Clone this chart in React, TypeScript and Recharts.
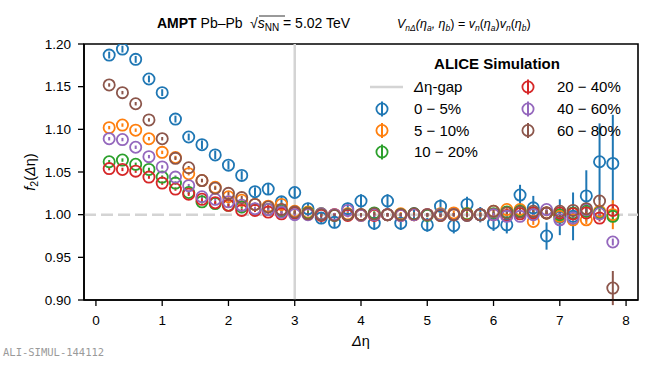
import React from 'react';
import { ScatterChart, Scatter, XAxis, YAxis, ErrorBar, ReferenceLine, ReferenceArea } from 'recharts';

const FONT = '"Liberation Sans", Arial, Helvetica, sans-serif';

const deltaEta = [0.2, 0.4, 0.6, 0.8, 1.0, 1.2, 1.4, 1.6, 1.8, 2.0, 2.2, 2.4, 2.6, 2.8, 3.0, 3.2, 3.4, 3.6, 3.8, 4.0,
  4.2, 4.4, 4.6, 4.8, 5.0, 5.2, 5.4, 5.6, 5.8, 6.0, 6.2, 6.4, 6.6, 6.8, 7.0, 7.2, 7.4, 7.6, 7.8];

const f2_0_5 = [1.187, 1.194, 1.182, 1.159, 1.143, 1.112, 1.091, 1.082, 1.070, 1.058, 1.046, 1.027, 1.030, 1.015, 1.026,
  1.007, 0.996, 0.991, 1.007, 1.016, 0.990, 1.016, 0.990, 1.001, 0.988, 1.010, 0.987, 1.012, 1.000, 0.990,
  0.988, 1.023, 1.008, 0.975, 0.997, 0.998, 1.022, 1.062, 1.060];
const err_0_5 = [0.004, 0.004, 0.004, 0.004, 0.004, 0.004, 0.004, 0.005, 0.005, 0.005, 0.005, 0.005, 0.006, 0.006, 0.006,
  0.007, 0.007, 0.007, 0.007, 0.008, 0.008, 0.008, 0.008, 0.008, 0.008, 0.008, 0.009, 0.009, 0.009, 0.009,
  0.010, 0.012, 0.014, 0.016, 0.021, 0.028, 0.030, 0.045, 0.057];

const f2_5_10 = [1.102, 1.105, 1.099, 1.089, 1.073, 1.067, 1.048, 1.040, 1.032, 1.021, 1.017, 1.012, 1.010, 1.012, 1.004,
  1.003, 1.001, 1.000, 1.001, 0.999, 1.001, 1.000, 1.001, 1.000, 1.000, 1.001, 1.002, 1.001, 1.000, 1.004,
  1.006, 1.006, 0.992, 1.002, 0.998, 0.994, 0.994, 1.004, 1.000];
const err_5_10 = [0.002, 0.002, 0.002, 0.002, 0.002, 0.002, 0.002, 0.002, 0.002, 0.002, 0.002, 0.002, 0.002, 0.002, 0.002,
  0.002, 0.002, 0.002, 0.002, 0.002, 0.002, 0.002, 0.002, 0.002, 0.002, 0.002, 0.003, 0.003, 0.003, 0.003,
  0.003, 0.003, 0.004, 0.004, 0.004, 0.005, 0.005, 0.008, 0.017];

const f2_10_20 = [1.062, 1.064, 1.059, 1.053, 1.044, 1.037, 1.026, 1.015, 1.013, 1.011, 1.009, 1.006, 1.006, 1.004, 1.002,
  1.002, 1.001, 0.999, 1.000, 1.000, 1.002, 1.000, 1.000, 1.001, 0.999, 1.000, 1.000, 1.001, 1.000, 1.001,
  1.003, 1.004, 1.002, 1.002, 1.000, 1.002, 1.004, 1.002, 0.998];
const err_10_20 = [0.002, 0.002, 0.002, 0.002, 0.002, 0.002, 0.002, 0.002, 0.002, 0.002, 0.002, 0.002, 0.002, 0.002, 0.002,
  0.002, 0.002, 0.002, 0.002, 0.002, 0.002, 0.002, 0.002, 0.002, 0.002, 0.002, 0.002, 0.002, 0.002, 0.002,
  0.003, 0.003, 0.003, 0.003, 0.003, 0.004, 0.004, 0.005, 0.006];

const f2_20_40 = [1.054, 1.053, 1.051, 1.044, 1.037, 1.030, 1.024, 1.018, 1.014, 1.011, 1.005, 1.005, 1.003, 1.001, 1.002,
  1.001, 0.999, 1.000, 0.999, 1.000, 0.999, 1.000, 0.999, 1.000, 1.000, 0.999, 1.000, 1.000, 1.000, 1.000,
  0.999, 1.001, 1.002, 1.002, 1.002, 1.001, 1.002, 0.996, 1.005];
const err_20_40 = [0.002, 0.002, 0.002, 0.002, 0.002, 0.002, 0.002, 0.002, 0.002, 0.002, 0.002, 0.002, 0.002, 0.002, 0.002,
  0.002, 0.002, 0.002, 0.002, 0.002, 0.002, 0.002, 0.002, 0.002, 0.002, 0.002, 0.002, 0.002, 0.002, 0.002,
  0.002, 0.002, 0.003, 0.003, 0.003, 0.003, 0.004, 0.004, 0.005];

const f2_40_60 = [1.089, 1.088, 1.079, 1.068, 1.056, 1.044, 1.034, 1.021, 1.018, 1.015, 1.011, 1.007, 1.006, 1.003, 1.000,
  1.000, 1.001, 1.000, 1.005, 0.999, 1.000, 1.000, 0.999, 1.000, 1.000, 1.000, 1.000, 0.999, 1.000, 1.000,
  0.998, 0.998, 1.000, 1.006, 0.994, 0.996, 1.006, 1.001, 0.968];
const err_40_60 = [0.002, 0.002, 0.002, 0.002, 0.002, 0.002, 0.002, 0.002, 0.002, 0.002, 0.002, 0.002, 0.002, 0.002, 0.002,
  0.002, 0.002, 0.002, 0.002, 0.002, 0.002, 0.002, 0.002, 0.002, 0.002, 0.002, 0.002, 0.002, 0.002, 0.002,
  0.002, 0.002, 0.003, 0.003, 0.003, 0.003, 0.003, 0.004, 0.004];

const f2_60_80 = [1.152, 1.143, 1.130, 1.111, 1.089, 1.066, 1.055, 1.040, 1.031, 1.025, 1.020, 1.012, 1.009, 1.006, 1.003,
  1.001, 1.000, 0.999, 1.000, 1.000, 1.001, 1.000, 1.000, 1.001, 1.000, 0.999, 1.000, 0.999, 1.000, 1.004,
  1.002, 1.003, 1.004, 1.002, 1.004, 1.005, 1.007, 1.016, 0.914];
const err_60_80 = [0.002, 0.002, 0.002, 0.002, 0.002, 0.002, 0.002, 0.002, 0.002, 0.002, 0.002, 0.002, 0.002, 0.002, 0.002,
  0.002, 0.002, 0.002, 0.002, 0.002, 0.002, 0.002, 0.002, 0.002, 0.002, 0.002, 0.002, 0.002, 0.002, 0.002,
  0.003, 0.003, 0.003, 0.003, 0.003, 0.004, 0.004, 0.006, 0.020];

const centralityLabels = ['0 \u2212 5%', '5 \u2212 10%', '10 \u2212 20%', '20 \u2212 40%', '40 \u2212 60%', '60 \u2212 80%'];
const colors = ['#1f77b4', '#ff7f0e', '#2ca02c', '#d62728', '#9467bd', '#8c564b'];
const seriesValues = [f2_0_5, f2_5_10, f2_10_20, f2_20_40, f2_40_60, f2_60_80];
const seriesErrors = [err_0_5, err_5_10, err_10_20, err_20_40, err_40_60, err_60_80];

const xTicks = [0, 1, 2, 3, 4, 5, 6, 7, 8];
const yTicks = [0.9, 0.95, 1.0, 1.05, 1.1, 1.15, 1.2];
const xDomain: [number, number] = [-0.18, 8.18];
const yDomain: [number, number] = [0.9, 1.2];
const gapPosition = 3;

const series = seriesValues.map((vals, s) => ({
  name: centralityLabels[s],
  color: colors[s],
  data: deltaEta.map((x, i) => ({ x, y: vals[i], err: seriesErrors[s][i] })),
}));

const makeShape = (color: string) => (p: any) => (
  <circle cx={p.cx} cy={p.cy} r={5.6} fill="none" stroke={color} strokeWidth={1.8} />
);

const LegendMarker = ({ x, y, color }: { x: number; y: number; color: string }) => (
  <g>
    <line x1={x} x2={x} y1={y - 7.5} y2={y + 7.5} stroke={color} strokeWidth={2} />
    <circle cx={x} cy={y} r={5.6} fill="none" stroke={color} strokeWidth={1.8} />
  </g>
);

export default function App() {
  const rowY = [87, 109, 130.5, 152];
  const col1Marker = 382;
  const col1Text = 414;
  const col2Marker = 528;
  const col2Text = 557;
  const sub = 8.5;
  return (
    <div style={{ position: 'absolute', left: 0, top: 0, width: 664, height: 370, background: '#fff' }}>
      <ScatterChart width={664} height={370} margin={{ top: 44, right: 26, bottom: 40, left: 24 }}>
        <XAxis
          type="number"
          dataKey="x"
          domain={xDomain}
          ticks={xTicks}
          interval={0}
          allowDataOverflow
          tickSize={6}
          tickMargin={9}
          height={30}
          axisLine={{ stroke: '#000', strokeWidth: 1.6 }}
          tickLine={{ stroke: '#000', strokeWidth: 1.3 }}
          tick={{ fill: '#000', fontSize: 13.5, fontFamily: FONT }}
        />
        <YAxis
          type="number"
          dataKey="y"
          domain={yDomain}
          ticks={yTicks}
          interval={0}
          allowDataOverflow
          width={60}
          tickSize={6}
          tickMargin={7}
          tickFormatter={(v: number) => v.toFixed(2)}
          axisLine={{ stroke: '#000', strokeWidth: 1.6 }}
          tickLine={{ stroke: '#000', strokeWidth: 1.3 }}
          tick={{ fill: '#000', fontSize: 13.5, fontFamily: FONT }}
        />
        <ReferenceArea x1={xDomain[0]} x2={xDomain[1]} y1={yDomain[0]} y2={yDomain[1]} fill="none" fillOpacity={0} stroke="#000" strokeWidth={1.6} />
        <ReferenceLine y={1.0} stroke="#d4d4d4" strokeWidth={2.5} strokeDasharray="12 5" />
        <ReferenceLine x={gapPosition} stroke="#d4d4d4" strokeWidth={2.5} />
        {series.map((s) => (
          <Scatter key={s.name} name={s.name} data={s.data} isAnimationActive={false} shape={makeShape(s.color)}>
            <ErrorBar dataKey="err" direction="y" width={0} stroke={s.color} strokeWidth={2} isAnimationActive={false} />
          </Scatter>
        ))}
      </ScatterChart>
      <svg width={664} height={370} style={{ position: 'absolute', left: 0, top: 0, pointerEvents: 'none' }} fontFamily={FONT}>
        {/* title */}
        <text x={157} y={28} fontSize={14} fill="#000">
          <tspan fontWeight="bold">AMPT</tspan>
          <tspan> Pb–Pb</tspan>
        </text>
        <text x={250} y={28} fontSize={14} fill="#000">
          <tspan>√</tspan>
          <tspan fontStyle="italic">s</tspan>
          <tspan fontSize={10} dy={3}>NN</tspan>
          <tspan dy={-3}> = 5.02 TeV</tspan>
        </text>
        <line x1={259} x2={285} y1={16} y2={16} stroke="#000" strokeWidth={0.8} />
        <text x={397} y={28} fontSize={12.5} fill="#000" fontStyle="italic">
          <tspan>V</tspan>
          <tspan fontSize={sub} dy={3}>nΔ</tspan>
          <tspan dy={-3}>(η</tspan>
          <tspan fontSize={sub} dy={3}>a</tspan>
          <tspan dy={-3}>, η</tspan>
          <tspan fontSize={sub} dy={3}>b</tspan>
          <tspan dy={-3} fontStyle="normal">) = </tspan>
          <tspan>v</tspan>
          <tspan fontSize={sub} dy={3}>n</tspan>
          <tspan dy={-3} fontStyle="normal">(</tspan>
          <tspan>η</tspan>
          <tspan fontSize={sub} dy={3}>a</tspan>
          <tspan dy={-3} fontStyle="normal">)</tspan>
          <tspan>v</tspan>
          <tspan fontSize={sub} dy={3}>n</tspan>
          <tspan dy={-3} fontStyle="normal">(</tspan>
          <tspan>η</tspan>
          <tspan fontSize={sub} dy={3}>b</tspan>
          <tspan dy={-3} fontStyle="normal">)</tspan>
        </text>
        {/* legend */}
        <text x={497} y={68.5} fontSize={15} fontWeight="bold" textAnchor="middle" fill="#000">ALICE Simulation</text>
        <line x1={370} x2={403} y1={rowY[0]} y2={rowY[0]} stroke="#d4d4d4" strokeWidth={2.5} />
        <text x={col1Text} y={rowY[0] + 5.3} fontSize={15} fill="#000">
          <tspan fontStyle="italic">Δ</tspan>
          <tspan>η-gap</tspan>
        </text>
        {[0, 1, 2].map((k) => (
          <g key={'c1' + k}>
            <LegendMarker x={col1Marker} y={rowY[k + 1]} color={colors[k]} />
            <text x={col1Text} y={rowY[k + 1] + 5.3} fontSize={15} fill="#000">{centralityLabels[k]}</text>
          </g>
        ))}
        {[3, 4, 5].map((k) => (
          <g key={'c2' + k}>
            <LegendMarker x={col2Marker} y={rowY[k - 3]} color={colors[k]} />
            <text x={col2Text} y={rowY[k - 3] + 5.3} fontSize={15} fill="#000">{centralityLabels[k]}</text>
          </g>
        ))}
        {/* axis labels */}
        <text x={361} y={346} fontSize={14.5} textAnchor="middle" fill="#000">
          <tspan fontStyle="italic">Δ</tspan>
          <tspan>η</tspan>
        </text>
        <text x={0} y={0} fontSize={14.5} textAnchor="middle" fill="#000" transform="translate(35,172) rotate(-90)">
          <tspan fontStyle="italic">f</tspan>
          <tspan fontSize={10.5} dy={3}>2</tspan>
          <tspan dy={-3}>(</tspan>
          <tspan fontStyle="italic">Δ</tspan>
          <tspan>η)</tspan>
        </text>
        <text x={3} y={356} fontSize={10.5} fill="#9a9a9a" fontFamily='"DejaVu Sans Mono", monospace'>ALI-SIMUL-144112</text>
      </svg>
    </div>
  );
}
